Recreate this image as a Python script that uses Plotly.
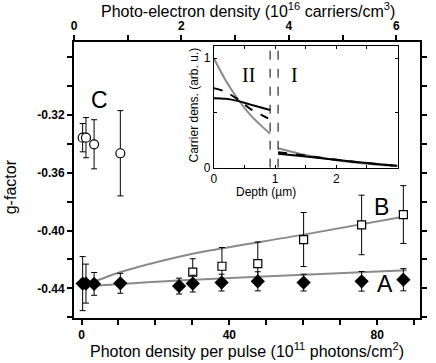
import plotly.graph_objects as go

# ---- main data ----
photon_A = [0.3, 1.2, 3.4, 10.5, 26.4, 30.1, 37.9, 47.7, 60.1, 75.8, 87.1]
g_A = [-0.4367, -0.4367, -0.4369, -0.4365, -0.4384, -0.4367, -0.4360, -0.4351, -0.4360, -0.4351, -0.4340]
err_A = [0.0187, 0.0135, 0.0079, 0.0069, 0.0055, 0.0058, 0.0058, 0.0066, 0.0058, 0.0068, 0.0077]

photon_B = [30.1, 38.0, 47.7, 60.1, 75.8, 87.1]
g_B = [-0.4287, -0.4247, -0.4229, -0.4062, -0.3961, -0.3889]
err_B = [0.0092, 0.0130, 0.0150, 0.0187, 0.0206, 0.0200]

photon_C = [0.3, 1.2, 3.4, 10.5]
g_C = [-0.3357, -0.3357, -0.3403, -0.3465]
err_C = [0.0098, 0.0139, 0.0170, 0.0295]

fit_A_x = [0.3, 3.4, 10.5, 26.1, 60.1, 88.0]
fit_A_y = [-0.4367, -0.4380, -0.4370, -0.4345, -0.4306, -0.4275]
fit_B_x = [0.3, 3.4, 10.6, 26.1, 35.1, 60.1, 87.1]
fit_B_y = [-0.4367, -0.4351, -0.4287, -0.4183, -0.4136, -0.4028, -0.3905]

bottom_ticks = [0, 10, 20, 30, 40, 50, 60, 70, 80, 90]
bottom_labels = ["0", "", "", "", "40", "", "", "", "80", ""]
top_ticks = [0, 1, 2, 3, 4, 5, 6]
top_labels = ["0", "", "2", "", "4", "", "6"]
y_ticks = [-0.46, -0.44, -0.42, -0.40, -0.38, -0.36, -0.34, -0.32, -0.30, -0.28]
y_labels = ["", "-0.44", "", "-0.40", "", "-0.36", "", "-0.32", "", ""]

# ---- inset data ----
depth_II = [0, 0.2, 0.4, 0.6, 0.8, 0.92]
gray_II = [1.0, 0.79, 0.62, 0.48, 0.37, 0.31]
solid_II = [0.634, 0.628, 0.607, 0.575, 0.545, 0.527]
dash_II = [0.726, 0.69, 0.62, 0.535, 0.475, 0.44]
depth_I = [1.05, 1.5, 2.0, 2.5, 3.0]
gray_I = [0.177, 0.115, 0.068, 0.035, 0.012]
solid_I = [0.128, 0.103, 0.072, 0.043, 0.018]
dash_I = [0.142, 0.110, 0.072, 0.042, 0.016]
boundaries = [0.92, 1.05]
inset_xticks = [0, 0.5, 1, 1.5, 2, 2.5, 3]
inset_xlabels = ["0", "", "1", "", "2", "", ""]
inset_yticks = [0, 0.5, 1]
inset_ylabels = ["0", "", "1"]

FONT = "Liberation Sans, Arial, sans-serif"
GRAY = "#8a8a8a"

fig = go.Figure()

# fit lines
fig.add_trace(go.Scatter(x=fit_B_x, y=fit_B_y, mode="lines", line=dict(color=GRAY, width=2, shape="spline"),
                         showlegend=False, hoverinfo="skip"))
fig.add_trace(go.Scatter(x=fit_A_x, y=fit_A_y, mode="lines", line=dict(color=GRAY, width=2, shape="spline"),
                         showlegend=False, hoverinfo="skip"))

errstyle = dict(type="data", color="black", thickness=1, width=3)

fig.add_trace(go.Scatter(x=photon_B, y=g_B, mode="markers",
                         error_y=dict(array=err_B, **errstyle),
                         marker=dict(symbol="square", size=8, color="white", line=dict(color="black", width=1.2)),
                         showlegend=False))
fig.add_trace(go.Scatter(x=photon_A, y=g_A, mode="markers",
                         error_y=dict(array=err_A, **errstyle),
                         marker=dict(symbol="diamond", size=11, color="black", line=dict(color="black", width=0)),
                         showlegend=False))
fig.add_trace(go.Scatter(x=photon_C, y=g_C, mode="markers",
                         error_y=dict(array=err_C, **errstyle),
                         marker=dict(symbol="circle", size=9, color="white", line=dict(color="black", width=1.2)),
                         showlegend=False))

# top axis carrier trace (invisible)
fig.add_trace(go.Scatter(x=[0], y=[-0.30], xaxis="x2", yaxis="y", mode="markers",
                         marker=dict(opacity=0), showlegend=False, hoverinfo="skip"))

# inset traces
for xs, ys in [(depth_II, gray_II), (depth_I, gray_I)]:
    fig.add_trace(go.Scatter(x=xs, y=ys, xaxis="x3", yaxis="y3", mode="lines",
                             line=dict(color=GRAY, width=2, shape="spline"), showlegend=False))
for xs, ys in [(depth_II, dash_II), (depth_I, dash_I)]:
    fig.add_trace(go.Scatter(x=xs, y=ys, xaxis="x3", yaxis="y3", mode="lines",
                             line=dict(color="black", width=2, dash="dash", shape="spline"), showlegend=False))
for xs, ys in [(depth_II, solid_II), (depth_I, solid_I)]:
    fig.add_trace(go.Scatter(x=xs, y=ys, xaxis="x3", yaxis="y3", mode="lines",
                             line=dict(color="black", width=2, shape="spline"), showlegend=False))
for b in boundaries:
    fig.add_trace(go.Scatter(x=[b, b], y=[0, 1.11], xaxis="x3", yaxis="y3", mode="lines",
                             line=dict(color="black", width=1, dash="dash"), showlegend=False))

tickfont = dict(family=FONT, size=12, color="black", weight="bold")
inset_font = dict(family=FONT, size=12, color="black")

fig.update_layout(
    width=436, height=363,
    margin=dict(l=74, r=9, t=42, b=45),
    paper_bgcolor="white", plot_bgcolor="white",
    showlegend=False,
    xaxis=dict(range=[-2.04, 91.6], tickvals=bottom_ticks, ticktext=bottom_labels,
               ticks="outside", ticklen=5, tickwidth=1.5, tickcolor="black",
               showline=True, linewidth=2, linecolor="black", showgrid=False, zeroline=False,
               tickfont=tickfont, anchor="y"),
    xaxis2=dict(range=[0, 6.44], overlaying="x", side="top", tickvals=top_ticks, ticktext=top_labels,
                ticks="outside", ticklen=5, tickwidth=1.5, tickcolor="black",
                showline=True, linewidth=2, linecolor="black", showgrid=False, zeroline=False,
                tickfont=tickfont, anchor="y"),
    yaxis=dict(range=[-0.4605, -0.2695], tickvals=y_ticks, ticktext=y_labels,
               ticks="outside", ticklen=5, tickwidth=1.5, tickcolor="black",
               showline=True, linewidth=2, linecolor="black", mirror="ticks", showgrid=False, zeroline=False,
               tickfont=tickfont),
    xaxis3=dict(domain=[0.404, 0.935], anchor="y3", range=[0, 3.0], tickvals=inset_xticks, ticktext=inset_xlabels,
                ticks="inside", ticklen=3, tickwidth=1, tickcolor="black",
                showline=True, linewidth=1, linecolor="black", mirror="ticks", showgrid=False, zeroline=False,
                tickfont=inset_font),
    yaxis3=dict(domain=[0.5446, 0.9855], anchor="x3", range=[0, 1.11], tickvals=inset_yticks, ticktext=inset_ylabels,
                ticks="inside", ticklen=3, tickwidth=1, tickcolor="black",
                showline=True, linewidth=1, linecolor="black", mirror="ticks", showgrid=False, zeroline=False,
                tickfont=inset_font),
)

ann = []
ann.append(dict(text="Photo-electron density (10<sup>16</sup> carriers/cm<sup>3</sup>)", xref="paper", yref="paper",
                x=0.504, y=1.116, showarrow=False, xanchor="center", yanchor="middle",
                font=dict(family=FONT, size=16, color="black")))
ann.append(dict(text="Photon density per pulse (10<sup>11</sup> photons/cm<sup>2</sup>)", xref="paper", yref="paper",
                x=0.5, y=-0.116, showarrow=False, xanchor="center", yanchor="middle",
                font=dict(family=FONT, size=16, color="black")))
ann.append(dict(text="g-factor", xref="paper", yref="paper", x=-0.181, y=0.475, textangle=-90,
                showarrow=False, xanchor="center", yanchor="middle",
                font=dict(family=FONT, size=16, color="black")))
ann.append(dict(text="Carrier dens. (arb. u.)", xref="paper", yref="paper", x=0.3456, y=0.772, textangle=-90,
                showarrow=False, xanchor="center", yanchor="middle",
                font=dict(family=FONT, size=12, color="black")))
ann.append(dict(text="Depth (µm)", xref="paper", yref="paper", x=0.555, y=0.4576,
                showarrow=False, xanchor="center", yanchor="middle",
                font=dict(family=FONT, size=12, color="black")))
ann.append(dict(text="II", xref="x3", yref="y3", x=0.56, y=0.85, showarrow=False,
                font=dict(family="Liberation Serif, Times New Roman, serif", size=20, color="black")))
ann.append(dict(text="I", xref="x3", yref="y3", x=1.31, y=0.85, showarrow=False,
                font=dict(family="Liberation Serif, Times New Roman, serif", size=20, color="black")))
for t, x, y in [("A", 82.0, -0.4372), ("B", 81.1, -0.3836), ("C", 4.9, -0.3096)]:
    ann.append(dict(text=t, xref="x", yref="y", x=x, y=y, showarrow=False, xanchor="center", yanchor="middle",
                    font=dict(family=FONT, size=23, color="black")))
fig.update_layout(annotations=ann)

fig.write_html("out.html", config={"displayModeBar": False},
               post_script="document.body.style.margin='0';document.body.style.overflow='hidden';")
